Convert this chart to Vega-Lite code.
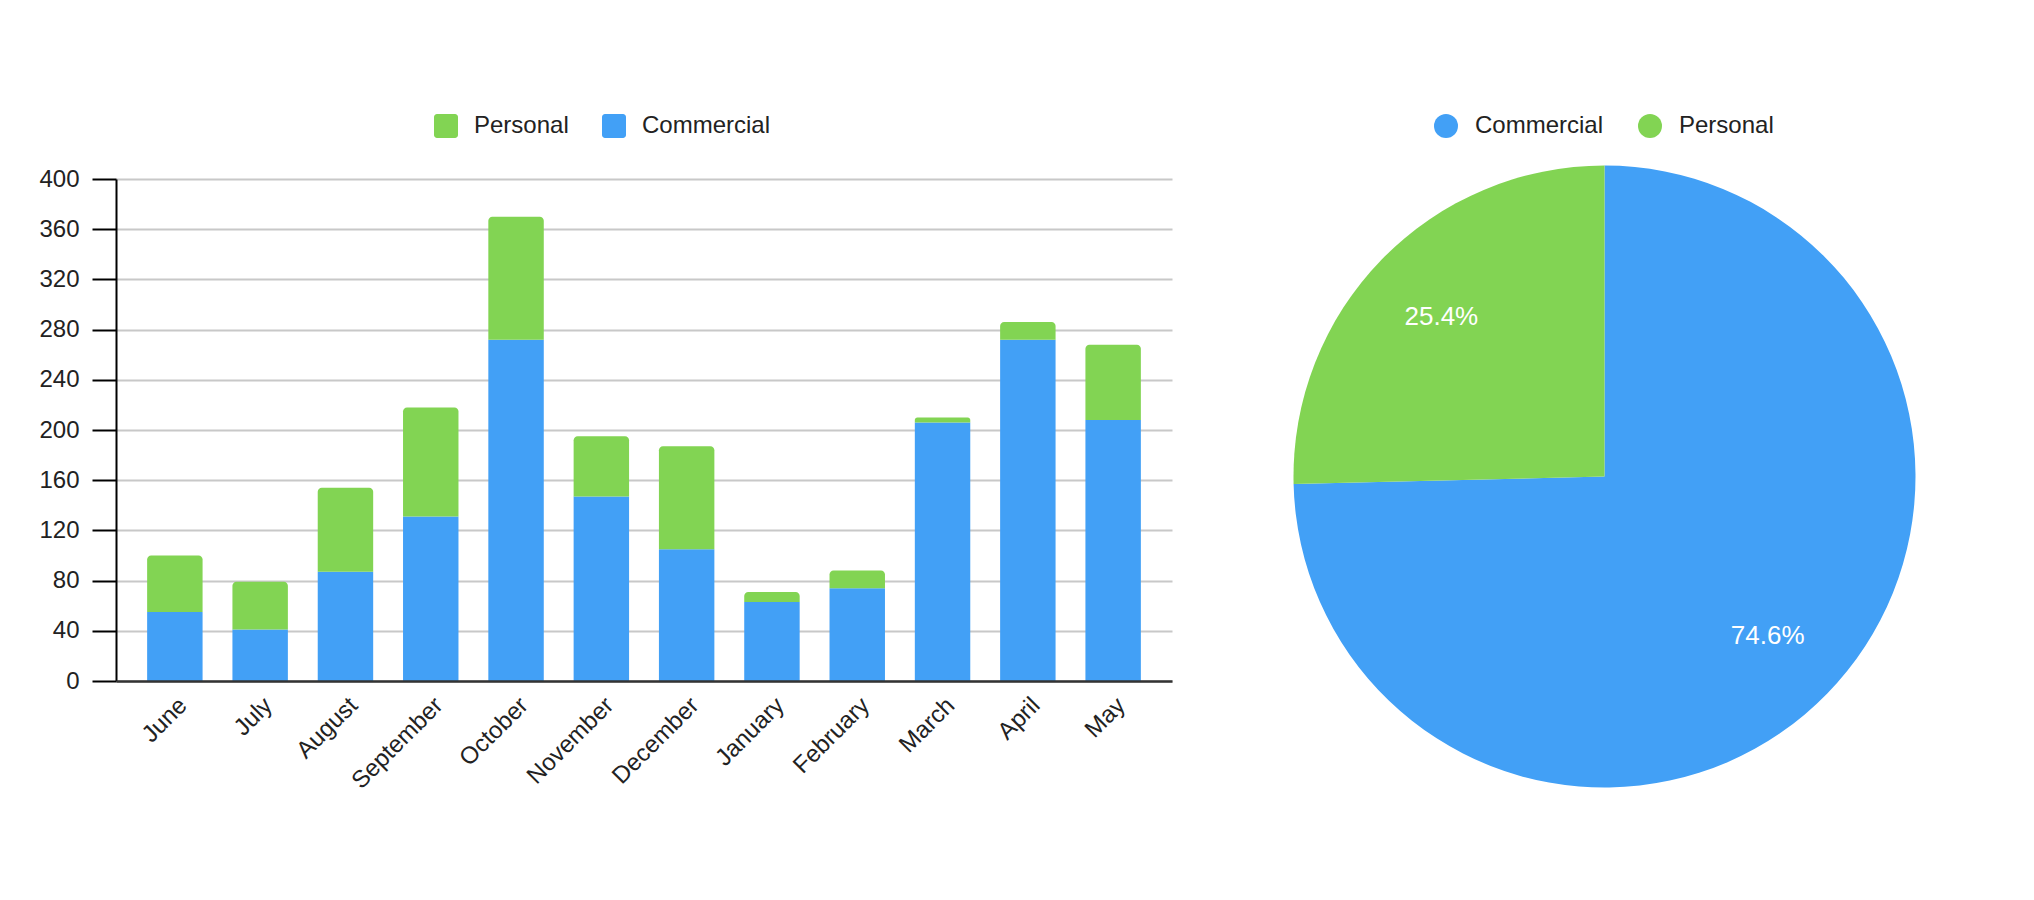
{
  "$schema": "https://vega.github.io/schema/vega-lite/v6.json",
  "background": "white",
  "padding": {"left": 38, "top": 114, "right": 0, "bottom": 0},
  "config": {
    "view": {"stroke": null},
    "font": "Liberation Sans",
    "concat": {"spacing": 121},
    "legend": {
      "orient": "none",
      "direction": "horizontal",
      "labelFontSize": 24,
      "labelColor": "#222222",
      "labelFont": "Liberation Sans",
      "symbolSize": 576,
      "symbolStrokeWidth": 0,
      "columnPadding": 33,
      "labelOffset": 16,
      "title": null
    }
  },
  "data": {
    "values": [
      {"month": "June", "type": "Commercial", "value": 55},
      {"month": "June", "type": "Personal", "value": 45},
      {"month": "July", "type": "Commercial", "value": 41},
      {"month": "July", "type": "Personal", "value": 38},
      {"month": "August", "type": "Commercial", "value": 87},
      {"month": "August", "type": "Personal", "value": 67},
      {"month": "September", "type": "Commercial", "value": 131},
      {"month": "September", "type": "Personal", "value": 87},
      {"month": "October", "type": "Commercial", "value": 272},
      {"month": "October", "type": "Personal", "value": 98},
      {"month": "November", "type": "Commercial", "value": 147},
      {"month": "November", "type": "Personal", "value": 48},
      {"month": "December", "type": "Commercial", "value": 105},
      {"month": "December", "type": "Personal", "value": 82},
      {"month": "January", "type": "Commercial", "value": 63},
      {"month": "January", "type": "Personal", "value": 8},
      {"month": "February", "type": "Commercial", "value": 74},
      {"month": "February", "type": "Personal", "value": 14},
      {"month": "March", "type": "Commercial", "value": 206},
      {"month": "March", "type": "Personal", "value": 4},
      {"month": "April", "type": "Commercial", "value": 272},
      {"month": "April", "type": "Personal", "value": 14},
      {"month": "May", "type": "Commercial", "value": 208},
      {"month": "May", "type": "Personal", "value": 60}
    ]
  },
  "resolve": {"scale": {"color": "independent"}, "legend": {"color": "independent"}},
  "hconcat": [
    {
      "width": 1056,
      "height": 502,
      "transform": [
        {"stack": "value", "groupby": ["month"], "sort": [{"field": "type", "order": "ascending"}], "as": ["v0", "v1"]}
      ],
      "encoding": {
        "x": {
          "field": "month",
          "type": "nominal",
          "sort": ["June", "July", "August", "September", "October", "November", "December", "January", "February", "March", "April", "May"],
          "scale": {"paddingInner": 0.35, "paddingOuter": 0.365},
          "axis": {
            "title": null,
            "labelAngle": -45,
            "labelFontSize": 24,
            "labelColor": "#222222",
            "ticks": false,
            "labelPadding": 12,
            "domainColor": "#333333",
            "domainWidth": 2.5,
            "zindex": 1
          }
        },
        "y": {
          "field": "v1",
          "type": "quantitative",
          "scale": {"domain": [0, 400], "nice": false},
          "axis": {
            "title": null,
            "values": [0, 40, 80, 120, 160, 200, 240, 280, 320, 360, 400],
            "labelFontSize": 24,
            "labelColor": "#222222",
            "labelPadding": 13,
            "tickSize": 24,
            "tickColor": "#000000",
            "tickWidth": 2,
            "domainColor": "#000000",
            "domainWidth": 2,
            "gridColor": "#c8c8c8",
            "gridWidth": 2
          }
        },
        "y2": {"field": "v0"},
        "color": {
          "field": "type",
          "type": "nominal",
          "scale": {"domain": ["Personal", "Commercial"], "range": ["#82d453", "#42a0f6"]},
          "legend": {
            "symbolType": "M -0.75 -1 L 0.75 -1 A 0.25 0.25 0 0 1 1 -0.75 L 1 0.75 A 0.25 0.25 0 0 1 0.75 1 L -0.75 1 A 0.25 0.25 0 0 1 -1 0.75 L -1 -0.75 A 0.25 0.25 0 0 1 -0.75 -1 Z",
            "legendX": 318,
            "legendY": -65
          }
        }
      },
      "layer": [
        {
          "transform": [{"filter": "datum.type === 'Commercial'"}],
          "mark": {"type": "bar"}
        },
        {
          "transform": [{"filter": "datum.type === 'Personal'"}],
          "mark": {"type": "bar", "cornerRadiusTopLeft": 4, "cornerRadiusTopRight": 4}
        }
      ]
    },
    {
      "width": 623,
      "height": 595,
      "transform": [
        {"aggregate": [{"op": "sum", "field": "value", "as": "total_value"}], "groupby": ["type"]},
        {"joinaggregate": [{"op": "sum", "field": "total_value", "as": "grand"}]},
        {"calculate": "datum.total_value / datum.grand", "as": "pct"}
      ],
      "encoding": {
        "theta": {"field": "total_value", "type": "quantitative", "stack": true},
        "order": {"field": "type", "type": "nominal", "sort": "ascending"}
      },
      "layer": [
        {
          "mark": {"type": "arc", "outerRadius": 311, "stroke": null, "strokeWidth": 0},
          "encoding": {
            "color": {
              "field": "type",
              "type": "nominal",
              "scale": {"domain": ["Commercial", "Personal"], "range": ["#42a0f6", "#82d453"]},
              "legend": {"symbolType": "circle", "legendX": 141, "legendY": -65, "labelOffset": 17, "columnPadding": 34}
            }
          }
        },
        {
          "mark": {"type": "text", "radius": 228, "fontSize": 26, "color": "white", "font": "Liberation Sans"},
          "encoding": {
            "text": {"field": "pct", "type": "quantitative", "format": ".1%"}
          }
        }
      ]
    }
  ]
}
